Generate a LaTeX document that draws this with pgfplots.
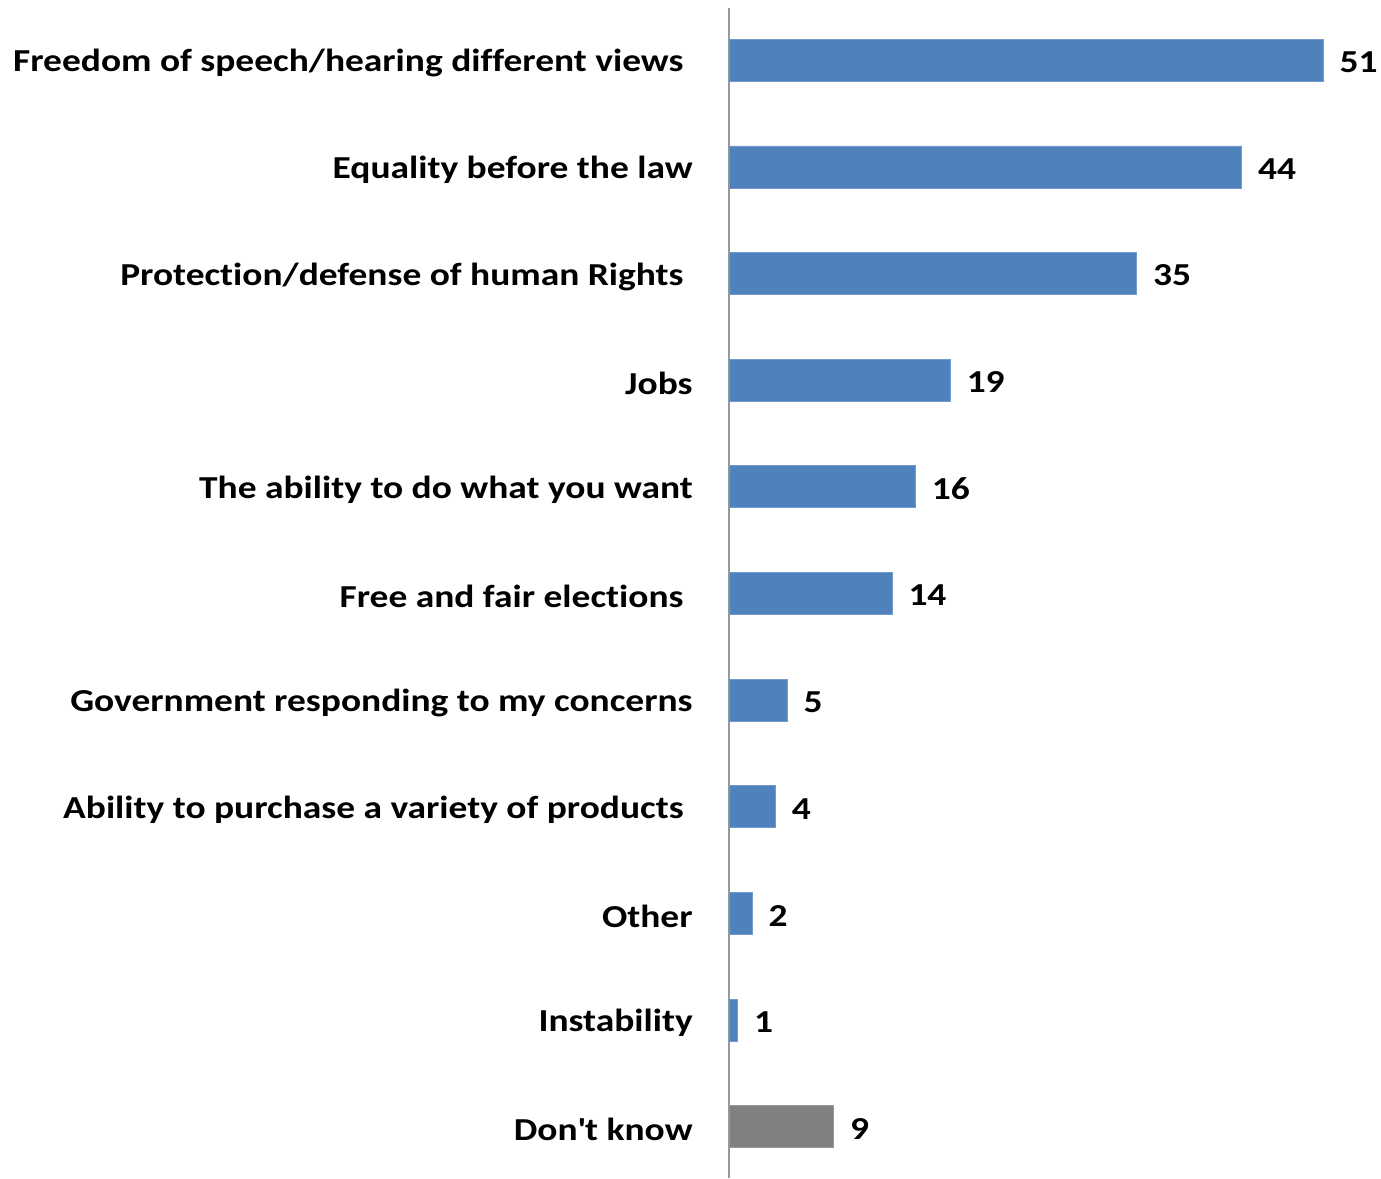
\documentclass[border=0pt]{standalone}
\usepackage{pgfplots}
\pgfplotsset{compat=1.18}
\usepackage{fontspec}
\setmainfont{Carlito}[FakeStretch=1.17, Ligatures={NoCommon}]
\definecolor{barblue}{HTML}{4F81BD}
\definecolor{bargray}{HTML}{808080}
\newcommand{\tsp}{\rule{4.5pt}{0pt}}
\begin{document}
\begin{tikzpicture}
\begin{axis}[
  at={(0,0)}, anchor=south west,
  scale only axis,
  width=320.4pt, height=585pt,
  xbar, bar width=21pt,
  xmin=0, xmax=55,
  ymin=-0.49, ymax=10.48,
  y dir=reverse,
  axis x line=none,
  axis y line*=left,
  y axis line style={draw=black!40, line width=0.6pt},
  ytick={0,...,10},
  yticklabels={
    {Freedom of speech/hearing different views\tsp},
    {Equality before the law},
    {Protection/defense of human Rights\tsp},
    {Jobs},
    {The ability to do what you want},
    {Free and fair elections\tsp},
    {Government responding to my concerns},
    {Ability to purchase a variety of products\tsp},
    {Other},
    {Instability},
    {Don\textquotesingle t know}},
  major tick length=0pt,
  yticklabel style={font=\fontsize{16}{19}\selectfont\bfseries, anchor=east, inner sep=0pt, xshift=-18pt, yshift=-1.5pt},
  nodes near coords,
  nodes near coords style={font=\fontsize{16}{19}\selectfont\bfseries, anchor=west, inner sep=0pt, xshift=8pt, yshift=-1pt},
  point meta=explicit symbolic,
  clip=false,
]
\addplot[fill=barblue, draw=barblue!80!white, bar shift=0pt] coordinates {
  (51,0) [51]
  (44,1) [44]
  (35,2) [35]
  (19,3) [19]
  (16,4) [16]
  (14,5) [14]
  (5,6) [5]
  (4,7) [4]
  (2,8) [2]
  (0.75,9) [1]
};
\addplot[fill=bargray, draw=bargray!80!white, bar shift=0pt] coordinates {
  (9,10) [9]
};
\end{axis}
\path[use as bounding box] (-364.5pt,0) rectangle (326pt,589pt);
\end{tikzpicture}
\end{document}
